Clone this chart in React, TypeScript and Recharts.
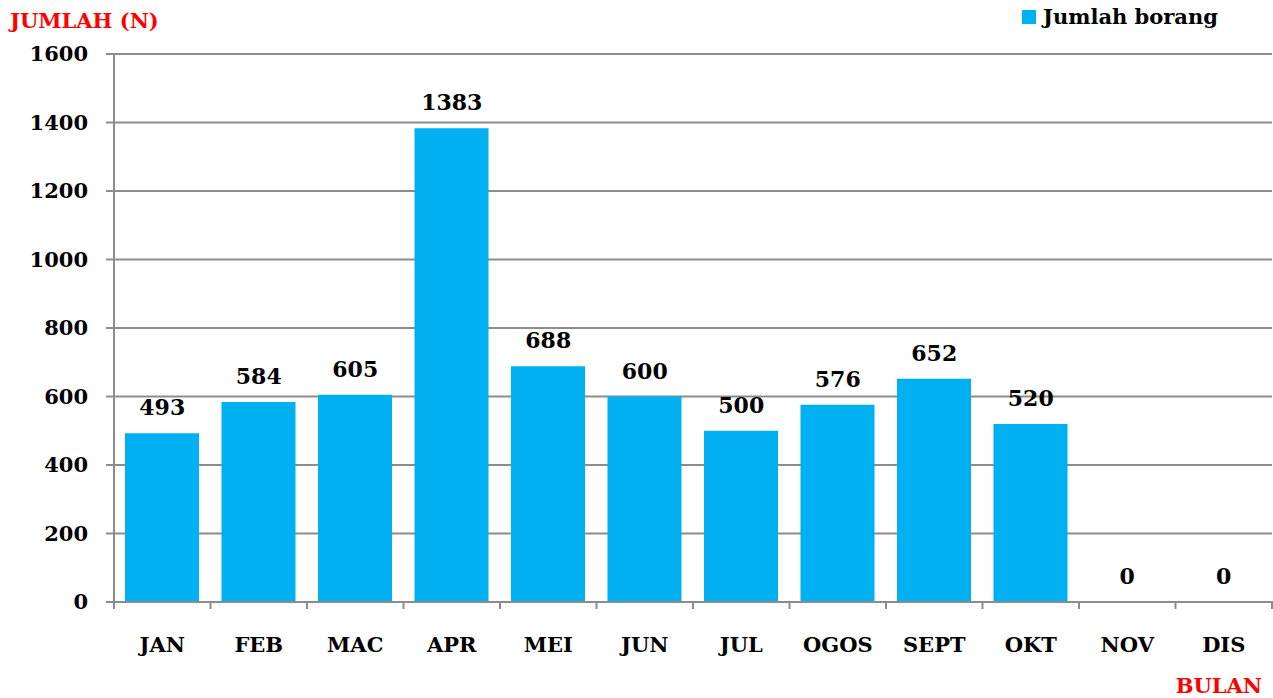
import React from 'react';
import { ComposedChart, Bar, Line, XAxis, YAxis, CartesianGrid, LabelList } from 'recharts';

const months = ['JAN', 'FEB', 'MAC', 'APR', 'MEI', 'JUN', 'JUL', 'OGOS', 'SEPT', 'OKT', 'NOV', 'DIS'];
const jumlahBorang = [493, 584, 605, 1383, 688, 600, 500, 576, 652, 520, 0, 0];
const yTicks = [0, 200, 400, 600, 800, 1000, 1200, 1400, 1600];
const seriesName = 'Jumlah borang';
const yTitle = 'JUMLAH (N)';
const xTitle = 'BULAN';

const data = months.map((m, i) => ({ month: m, value: jumlahBorang[i] }));

const FONT = '"DejaVu Serif", serif';
const GRID = '#8c8c8c';
const BAR = '#00b0f0';

const XTick = (props: any) => {
  const { x, y, payload, index } = props;
  const off = payload.offset || 0;
  const last = index === months.length - 1;
  return (
    <g>
      <line x1={x - off} x2={x - off} y1={y - 9} y2={y - 1} stroke={GRID} strokeWidth={2} />
      {last && <line x1={x + off} x2={x + off} y1={y - 9} y2={y - 1} stroke={GRID} strokeWidth={2} />}
      <text x={x} y={y + 42} textAnchor="middle" fontFamily={FONT} fontWeight="bold" fontSize={21} fill="#000">
        {payload.value}
      </text>
    </g>
  );
};

export default function App() {
  return (
    <div style={{ position: 'absolute', left: 0, top: 0, width: 1273, height: 698, background: '#fff' }}>
      <ComposedChart width={1273} height={698} data={data} margin={{ top: 54, right: 1, bottom: 0, left: 0 }}>
        <CartesianGrid vertical={false} stroke={GRID} strokeWidth={2} />
        <XAxis
          dataKey="month"
          height={96}
          axisLine={{ stroke: GRID, strokeWidth: 2 }}
          tickLine={false}
          interval={0}
          tick={<XTick />}
        />
        <YAxis
          width={114}
          domain={[0, 1600]}
          ticks={yTicks}
          interval={0}
          axisLine={{ stroke: GRID, strokeWidth: 2 }}
          tickLine={{ stroke: GRID, strokeWidth: 2 }}
          tickSize={8}
          tickMargin={18}
          tick={{ fontFamily: FONT, fontWeight: 'bold', fontSize: 21, fill: '#000' }}
        />
        <Bar dataKey="value" name={seriesName} fill={BAR} barSize={74} isAnimationActive={false} />
        <Line
          dataKey="value"
          stroke="none"
          dot={false}
          activeDot={false}
          legendType="none"
          isAnimationActive={false}
        >
          <LabelList
            dataKey="value"
            position="top"
            offset={18}
            fontFamily={FONT}
            fontWeight="bold"
            fontSize={22}
            fill="#000"
          />
        </Line>
      </ComposedChart>
      <div
        style={{
          position: 'absolute',
          left: 1022,
          top: 4,
          display: 'flex',
          alignItems: 'center',
          fontFamily: FONT,
          fontWeight: 'bold',
          fontSize: 21,
          color: '#000',
          whiteSpace: 'nowrap',
        }}
      >
        <span style={{ display: 'inline-block', width: 14, height: 14, background: BAR, marginRight: 7 }} />
        <span>{seriesName}</span>
      </div>
      <svg width={1273} height={698} style={{ position: 'absolute', left: 0, top: 0, pointerEvents: 'none' }}>
        <text x={10} y={28} fontFamily={FONT} fontWeight="bold" fontSize={21} fill="#ff0000">{yTitle}</text>
        <text x={1262} y={693} textAnchor="end" fontFamily={FONT} fontWeight="bold" fontSize={21} fill="#ff0000">{xTitle}</text>
      </svg>
    </div>
  );
}
